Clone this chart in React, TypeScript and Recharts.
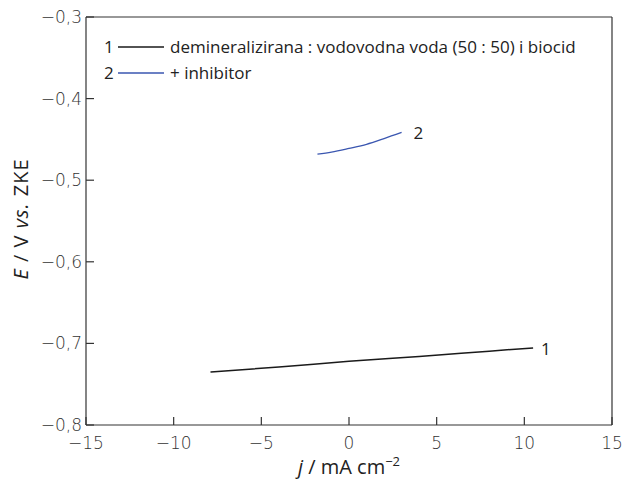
import { LineChart, Line, XAxis, YAxis, ReferenceLine } from "recharts";

// current density j / mA cm^-2 and potential E / V vs. ZKE
const series1 = [
  { j: -7.9, E: -0.735 },
  { j: -4, E: -0.729 },
  { j: 0, E: -0.722 },
  { j: 4, E: -0.716 },
  { j: 8, E: -0.7095 },
  { j: 10.5, E: -0.7055 },
];

const series2 = [
  { j: -1.8, E: -0.468 },
  { j: -1, E: -0.4655 },
  { j: 0, E: -0.461 },
  { j: 1, E: -0.456 },
  { j: 2, E: -0.449 },
  { j: 3, E: -0.4415 },
];

const xTicks = [-15, -10, -5, 0, 5, 10, 15];
const yTicks = [-0.8, -0.7, -0.6, -0.5, -0.4, -0.3];

const legendItems = [
  { id: "1", text: "demineralizirana : vodovodna voda (50 : 50) i biocid", color: "#1a1a1a" },
  { id: "2", text: "+ inhibitor", color: "#3a56b0" },
];

const FONT = "'Open Sans', sans-serif";
const TICK_FONT = "'DejaVu Sans', sans-serif";
const INK = "#222";
const AXIS = "#333";

const minus = (s: string) => s.replace("-", "\u2212");

function XTick(props: any) {
  const { x, y, payload } = props;
  return (
    <g>
      <line x1={x} x2={x} y1={y} y2={y - 8} stroke={AXIS} strokeWidth={1.2} />
      <text x={x} y={y + 24} textAnchor="middle" fontSize={17} fill="#333" fontFamily={TICK_FONT} fontWeight={300}>
        {minus(String(payload.value))}
      </text>
    </g>
  );
}

function YTick(props: any) {
  const { x, y, payload } = props;
  return (
    <g>
      <line x1={x} x2={x + 8} y1={y} y2={y} stroke={AXIS} strokeWidth={1.2} />
      <text x={x - 4} y={y + 6} textAnchor="end" fontSize={17} fill="#333" fontFamily={TICK_FONT} fontWeight={300}>
        {minus(payload.value.toFixed(1).replace(".", ","))}
      </text>
    </g>
  );
}

function endLabel(id: string, last: number, dx: number) {
  return (props: any) => {
    const { x, y, index } = props;
    if (index !== last) return <g />;
    return (
      <text x={x + dx} y={y + 7} fontSize={17} fill={INK} fontFamily={FONT}>
        {id}
      </text>
    );
  };
}

function LegendBox() {
  return (
    <div
      style={{
        position: "absolute",
        left: 104,
        top: 34,
        fontFamily: FONT,
        fontSize: 17,
        color: INK,
        lineHeight: "26px",
      }}
    >
      {legendItems.map((it) => (
        <div key={it.id} style={{ display: "flex", alignItems: "center", whiteSpace: "nowrap" }}>
          <span style={{ width: 14 }}>{it.id}</span>
          <svg width={48} height={10} style={{ marginRight: 4 }}>
            <line x1={0} x2={46} y1={5} y2={5} stroke={it.color} strokeWidth={1.4} />
          </svg>
          <span>{it.text}</span>
        </div>
      ))}
    </div>
  );
}

export default function App() {
  return (
    <div style={{ position: "absolute", left: 0, top: 0, width: 626, height: 489, background: "#fff" }}>
      <LineChart width={626} height={489} margin={{ top: 17, right: 14, bottom: 34, left: 26 }}>
        <XAxis
          dataKey="j"
          type="number"
          domain={[-15, 15]}
          ticks={xTicks}
          height={30}
          tickSize={0}
          tickMargin={0}
          tick={<XTick />}
          axisLine={{ stroke: AXIS, strokeWidth: 1.2 }}
          tickLine={false}
          allowDataOverflow
          label={{
            position: "insideBottom",
            content: () => (
              <text x={349} y={474} textAnchor="middle" fontSize={20} fill={INK} fontFamily={FONT}>
                <tspan fontStyle="italic">j</tspan>
                <tspan> / mA cm</tspan>
                <tspan dy={-8} fontSize={13}>−2</tspan>
              </text>
            ),
          }}
        />
        <YAxis
          type="number"
          domain={[-0.8, -0.3]}
          ticks={yTicks}
          width={60}
          tickSize={0}
          tickMargin={0}
          tick={<YTick />}
          axisLine={{ stroke: AXIS, strokeWidth: 1.2 }}
          tickLine={false}
          allowDataOverflow
          label={{
            position: "insideLeft",
            content: () => (
              <text
                x={28}
                y={219}
                transform="rotate(-90 28 219)"
                textAnchor="middle"
                fontSize={20}
                letterSpacing={1}
                fill={INK}
                fontFamily={FONT}
              >
                <tspan fontStyle="italic">E</tspan>
                <tspan> / V </tspan>
                <tspan fontStyle="italic">vs.</tspan>
                <tspan> ZKE</tspan>
              </text>
            ),
          }}
        />
        <ReferenceLine y={-0.3} stroke={AXIS} strokeWidth={1.2} />
        <ReferenceLine x={15} stroke={AXIS} strokeWidth={1.2} />
        <Line
          data={series1}
          dataKey="E"
          name="1"
          stroke={legendItems[0].color}
          strokeWidth={1.5}
          dot={false}
          type="monotone"
          isAnimationActive={false}
          label={endLabel("1", series1.length - 1, 8)}
        />
        <Line
          data={series2}
          dataKey="E"
          name="2"
          stroke={legendItems[1].color}
          strokeWidth={1.3}
          dot={false}
          type="monotone"
          isAnimationActive={false}
          label={endLabel("2", series2.length - 1, 12)}
        />
      </LineChart>
      <LegendBox />
    </div>
  );
}
